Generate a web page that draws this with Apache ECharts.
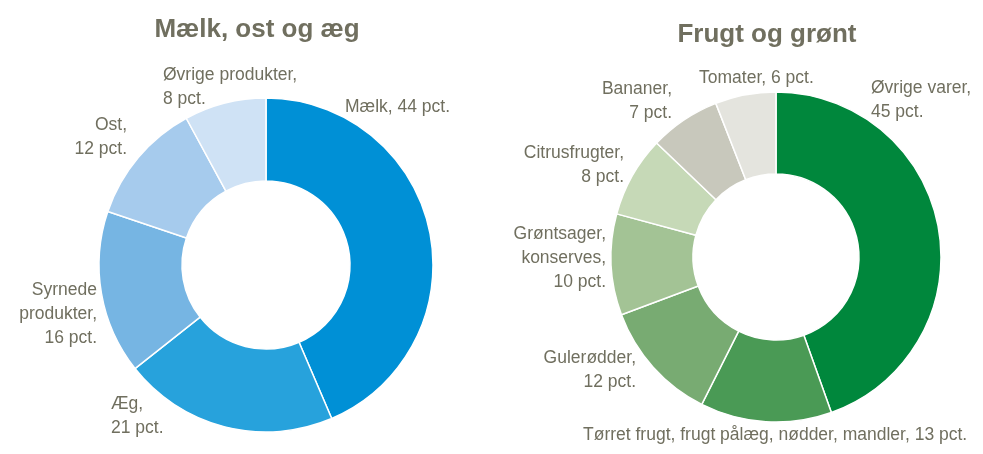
<!DOCTYPE html>
<html>
<head>
<meta charset="utf-8">
<script src="https://cdn.jsdelivr.net/npm/echarts@6/dist/echarts.min.js"></script>
<style>
  html, body { margin: 0; padding: 0; background: #fff; }
  #chart { width: 983px; height: 454px; }
</style>
</head>
<body>
<div id="chart"></div>
<script>
// Mælk, ost og æg
const dairyNames = ['Mælk', 'Æg', 'Syrnede produkter', 'Ost', 'Øvrige produkter']
const dairyValues = [44, 21, 16, 12, 8]
const dairyColors = ['#0090d6', '#27a2dc', '#76b5e3', '#a6cbed', '#cfe2f5']

// Frugt og grønt
const produceNames = ['Øvrige varer', 'Tørret frugt, frugt pålæg, nødder, mandler', 'Gulerødder',
  'Grøntsager, konserves', 'Citrusfrugter', 'Bananer', 'Tomater']
const produceValues = [45, 13, 12, 10, 8, 7, 6]
const produceColors = ['#00873c', '#4a9a55', '#78ab72', '#a3c395', '#c6d9b7', '#c8c8bc', '#e4e4de']

// where the name breaks onto a new line in the label
const dairyBreaks = ['Mælk', 'Æg', 'Syrnede\nprodukter', 'Ost', 'Øvrige produkter']
const produceBreaks = ['Øvrige varer', 'Tørret frugt, frugt pålæg, nødder, mandler', 'Gulerødder',
  'Grøntsager,\nkonserves', 'Citrusfrugter', 'Bananer', 'Tomater']
// 1 = "pct." on its own line
const dairyWrap = [0, 1, 1, 1, 1]
const produceWrap = [1, 0, 1, 1, 1, 1, 0]

const FONT = '"Liberation Sans Narrow", "Arial Narrow", "Liberation Sans", sans-serif'
const TEXT = '#706f5f'

// label anchor [x, y(middle), align] — layout only, hand placed like the original
const dairyLabelPos = [
  [345, 107, 'left'],
  [111, 416, 'left'],
  [97, 314, 'right'],
  [127, 137, 'right'],
  [163, 87, 'left'],
]
const produceLabelPos = [
  [871, 100, 'left'],
  [583, 435, 'left'],
  [636, 370, 'right'],
  [606, 258, 'right'],
  [624, 165, 'right'],
  [672, 101, 'right'],
  [699, 78, 'left'],
]
const labelPos = [dairyLabelPos, produceLabelPos]

function toData(breaks, values, colors, wrap) {
  return breaks.map((n, i) => ({
    name: n.replace('\n', ' '),
    value: values[i],
    itemStyle: { color: colors[i] },
    label: { formatter: n + ',' + (wrap[i] ? '\n' : ' ') + values[i] + ' pct.' },
  }))
}

const chart = echarts.init(document.getElementById('chart'))

const pieBase = {
  type: 'pie',
  startAngle: 90,
  clockwise: true,
  avoidLabelOverlap: false,
  itemStyle: { borderColor: '#ffffff', borderWidth: 1.5 },
  label: {
    show: true,
    position: 'outside',
    color: TEXT,
    fontFamily: FONT,
    fontSize: 17.5,
    lineHeight: 24,
  },
  labelLine: { show: false },
  labelLayout: function (params) {
    const p = labelPos[params.seriesIndex][params.dataIndex]
    return { x: p[0], y: p[1], align: p[2], verticalAlign: 'middle' }
  },
  emphasis: { disabled: true },
}

const titleStyle = { color: TEXT, fontFamily: FONT, fontSize: 26, fontWeight: 'bold' }

chart.setOption({
  animation: false,
  title: [
    { text: 'Mælk, ost og æg', left: 252, top: 12, textAlign: 'center', textStyle: titleStyle },
    { text: 'Frugt og grønt', left: 762, top: 17, textAlign: 'center', textStyle: titleStyle },
  ],
  series: [
    Object.assign({}, pieBase, {
      center: [266, 265],
      radius: [84, 167],
      data: toData(dairyBreaks, dairyValues, dairyColors, dairyWrap),
    }),
    Object.assign({}, pieBase, {
      center: [776, 257],
      radius: [83, 165],
      data: toData(produceBreaks, produceValues, produceColors, produceWrap),
    }),
  ],
})
</script>
</body>
</html>
